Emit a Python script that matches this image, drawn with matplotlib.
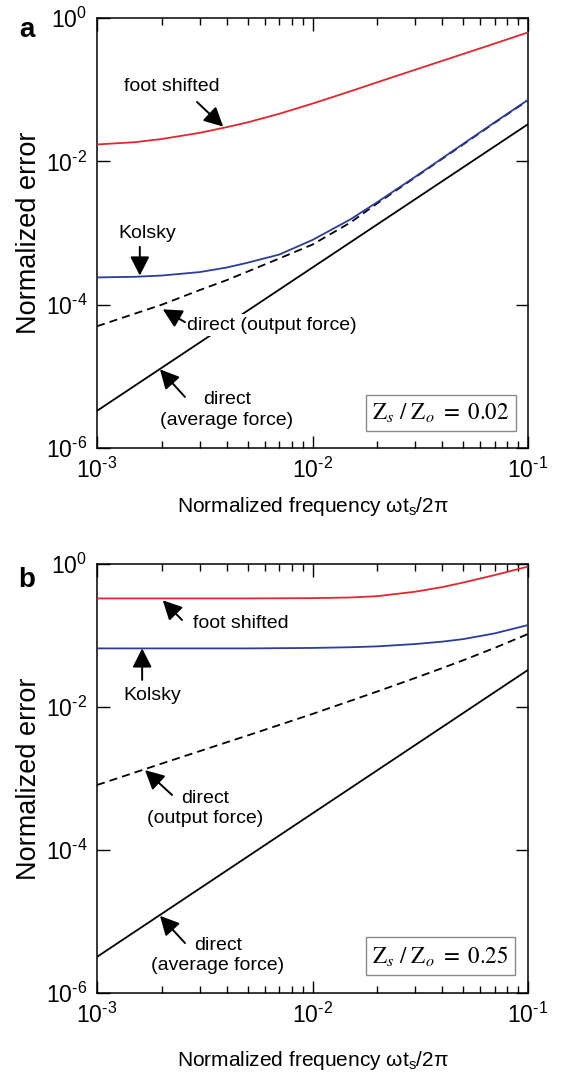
import numpy as np
import matplotlib
matplotlib.use('Agg')
import matplotlib.pyplot as plt
from matplotlib.ticker import LogLocator, NullLocator, NullFormatter

plt.rcParams['font.family'] = ['Liberation Sans', 'DejaVu Sans']
plt.rcParams['mathtext.fontset'] = 'custom'
plt.rcParams['mathtext.rm'] = 'Liberation Sans'
plt.rcParams['mathtext.it'] = 'Liberation Sans:italic'
plt.rcParams['mathtext.bf'] = 'Liberation Sans:bold'

# ---- data --------------------------------------------------------------------
xticks = [1e-3, 1e-2, 1e-1]
xtick_labels = [r'10$^{\text{-3}}$', r'10$^{\text{-2}}$', r'10$^{\text{-1}}$']
yticks = [1e-6, 1e-4, 1e-2, 1e0]
ytick_labels = [r'10$^{\text{-6}}$', r'10$^{\text{-4}}$', r'10$^{\text{-2}}$', r'10$^{\text{0}}$']

# panel a  (Zs/Zo = 0.02)
f_a = [1e-3, 1.5e-3, 2e-3, 3e-3, 4e-3, 5e-3, 7e-3, 1e-2, 1.5e-2, 2e-2, 3e-2, 5e-2, 7e-2, 1e-1]
foot_a = [0.0172, 0.0185, 0.0205, 0.025, 0.030, 0.035, 0.046, 0.064, 0.095, 0.127, 0.19, 0.315, 0.44, 0.63]
kolsky_a = [2.4e-4, 2.45e-4, 2.55e-4, 2.85e-4, 3.3e-4, 3.85e-4, 5.0e-4, 8.0e-4, 1.55e-3, 2.7e-3, 6.1e-3, 1.75e-2, 3.5e-2, 7.2e-2]
dout_a = [5.0e-5, 7.5e-5, 1.0e-4, 1.6e-4, 2.2e-4, 2.9e-4, 4.4e-4, 6.9e-4, 1.4e-3, 2.6e-3, 6.0e-3, 1.72e-2, 3.45e-2, 7.1e-2]
favg_a = [1e-3, 1e-2, 1e-1]
davg_a = [3.3e-6, 3.3e-4, 3.3e-2]

# panel b  (Zs/Zo = 0.25)
f_b = [1e-3, 2e-3, 5e-3, 1e-2, 1.5e-2, 2e-2, 3e-2, 4e-2, 5e-2, 7e-2, 1e-1]
foot_b = [0.33, 0.33, 0.33, 0.333, 0.34, 0.355, 0.41, 0.475, 0.55, 0.70, 0.92]
kolsky_b = [0.066, 0.066, 0.066, 0.067, 0.0685, 0.0705, 0.076, 0.082, 0.089, 0.107, 0.14]
dout_b = [8.1e-4, 1.62e-3, 4.0e-3, 8.0e-3, 1.22e-2, 1.65e-2, 2.55e-2, 3.5e-2, 4.5e-2, 6.7e-2, 0.105]
favg_b = [1e-3, 1e-2, 1e-1]
davg_b = [3.2e-6, 3.25e-4, 3.3e-2]

RED = '#e3262e'
BLUE = '#2c3d98'
LW = 1.3

fig = plt.figure(figsize=(5.69, 10.72), dpi=100)
ax_a = fig.add_axes([97/569, 1-448/1072, 431/569, 430/1072])
ax_b = fig.add_axes([97/569, 1-993/1072, 431/569, 429/1072])


def style(ax, xpad):
    ax.set_xscale('log'); ax.set_yscale('log')
    ax.set_xlim(1e-3, 1e-1); ax.set_ylim(1e-6, 1)
    ax.set_xticks(xticks); ax.set_xticklabels(xtick_labels)
    ax.xaxis.set_minor_locator(LogLocator(base=10, subs=np.arange(2, 10)))
    ax.xaxis.set_minor_formatter(NullFormatter())
    ax.set_yticks(yticks); ax.set_yticklabels(ytick_labels)
    ax.yaxis.set_minor_locator(NullLocator())
    ax.tick_params(which='both', direction='in', top=True, right=True, width=1.0,
                   labelsize=16.5)
    ax.tick_params(which='major', length=9)
    ax.tick_params(which='minor', length=5)
    ax.tick_params(axis='x', pad=7)
    ax.tick_params(axis='y', pad=7)
    for s in ax.spines.values():
        s.set_linewidth(1.1)
    ax.set_xlabel('Normalized frequency ωt$_\\mathrm{s}$/2π', fontsize=15, labelpad=xpad)
    ax.set_ylabel('Normalized error', fontsize=19.5, labelpad=3)


def arrow(ax, tail, tip):
    ax.annotate('', xy=tip, xytext=tail, zorder=5,
                arrowprops=dict(arrowstyle='-|>,head_length=0.55,head_width=0.28',
                                mutation_scale=21, lw=1.4, color='k',
                                shrinkA=0, shrinkB=0))


def ratio_box(ax, x, y, s):
    ax.text(x, y, s, transform=ax.transAxes, ha='center', va='center', fontsize=16.5,
            math_fontfamily='stix',
            bbox=dict(boxstyle='square,pad=0.3', fc='white', ec='#8a8a8a', lw=1.0))


# ---- panel a -----------------------------------------------------------------
ax = ax_a
ax.plot(favg_a, davg_a, color='k', lw=LW, zorder=2)
ax.plot(f_a, dout_a, color='k', lw=LW, dashes=(4.5, 2.8), zorder=2)
ax.plot(f_a, kolsky_a, color=BLUE, lw=LW, zorder=3)
ax.plot(f_a, foot_a, color=RED, lw=LW, zorder=3)
style(ax, 9)

ax.text(2.23e-3, 0.112, 'foot shifted', fontsize=14, ha='center', va='center')
arrow(ax, (2.91e-3, 0.0673), (3.85e-3, 0.0305))
ax.text(1.71e-3, 9.7e-4, 'Kolsky', fontsize=14, ha='center', va='center')
arrow(ax, (1.58e-3, 6.4e-4), (1.58e-3, 2.55e-4))
ax.text(2.62e-3, 5.2e-5, 'direct (output force)', fontsize=14, ha='left', va='center',
        zorder=4, bbox=dict(fc='white', ec='none', pad=1.5))
arrow(ax, (2.56e-3, 5.7e-5), (2.02e-3, 8.6e-5))
ax.text(4.01e-3, 3.39e-6, 'direct\n(average force)', fontsize=14, ha='center',
        va='center', linespacing=1.25)
arrow(ax, (2.56e-3, 5.15e-6), (1.96e-3, 1.25e-5))
ratio_box(ax, 0.798, 0.0814, r'$\mathrm{Z}_{s}\ /\ \mathrm{Z}_{o}\ =\ 0.02$')

# ---- panel b -----------------------------------------------------------------
ax = ax_b
ax.plot(favg_b, davg_b, color='k', lw=LW, zorder=2)
ax.plot(f_b, dout_b, color='k', lw=LW, dashes=(4.5, 2.8), zorder=2)
ax.plot(f_b, kolsky_b, color=BLUE, lw=LW, zorder=3)
ax.plot(f_b, foot_b, color=RED, lw=LW, zorder=3)
style(ax, 15)

ax.text(4.65e-3, 0.145, 'foot shifted', fontsize=14, ha='center', va='center')
arrow(ax, (2.48e-3, 0.165), (2.02e-3, 0.31))
ax.text(1.80e-3, 0.0147, 'Kolsky', fontsize=14, ha='center', va='center')
arrow(ax, (1.62e-3, 0.0239), (1.62e-3, 0.066))
ax.text(3.17e-3, 3.8e-4, 'direct\n(output force)', fontsize=14, ha='center',
        va='center', linespacing=1.25)
arrow(ax, (2.23e-3, 5.88e-4), (1.67e-3, 1.31e-3))
ax.text(3.64e-3, 3.34e-6, 'direct\n(average force)', fontsize=14, ha='center',
        va='center', linespacing=1.25)
arrow(ax, (2.56e-3, 5.0e-6), (1.96e-3, 1.2e-5))
ratio_box(ax, 0.797, 0.0862, r'$\mathrm{Z}_{s}\ /\ \mathrm{Z}_{o}\ =\ 0.25$')

fig.text(27/569, 1-30/1072, 'a', fontsize=20, fontweight='bold', ha='center', va='center')
fig.text(27/569, 1-580/1072, 'b', fontsize=20, fontweight='bold', ha='center', va='center')

fig.savefig('out.png', dpi=100)
